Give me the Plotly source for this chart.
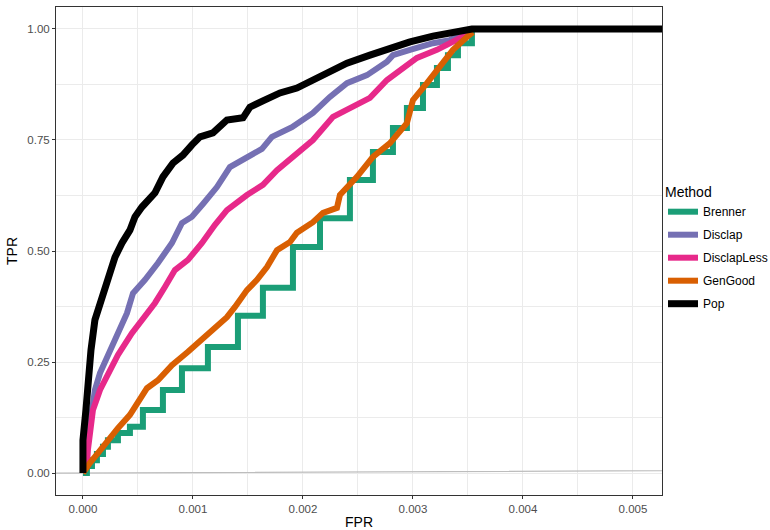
import plotly.graph_objects as go

# ---------------- data (FPR, TPR) ----------------
methods = ["Brenner", "Disclap", "DisclapLess", "GenGood", "Pop"]
colors = ["#1B9E77", "#7570B3", "#E7298A", "#D95F02", "#000000"]

brenner_fpr = [0, 0.036e-3, 0.082e-3, 0.127e-3, 0.182e-3, 0.227e-3, 0.318e-3, 0.427e-3,
               0.545e-3, 0.727e-3, 0.900e-3, 1.136e-3, 1.409e-3, 1.636e-3, 1.909e-3,
               2.155e-3, 2.427e-3, 2.636e-3, 2.818e-3, 2.945e-3, 3.091e-3, 3.218e-3,
               3.318e-3, 3.409e-3, 3.536e-3]
brenner_tpr = [0, 0.016, 0.029, 0.043, 0.059, 0.074, 0.090, 0.104, 0.142, 0.187, 0.236,
               0.284, 0.354, 0.417, 0.509, 0.574, 0.660, 0.723, 0.777, 0.822, 0.874,
               0.912, 0.941, 0.968, 0.993]

disclap_fpr = [0, 0.018e-3, 0.045e-3, 0.082e-3, 0.109e-3, 0.155e-3, 0.218e-3, 0.291e-3,
               0.336e-3, 0.400e-3, 0.455e-3, 0.564e-3, 0.682e-3, 0.809e-3, 0.900e-3,
               0.991e-3, 1.091e-3, 1.218e-3, 1.336e-3, 1.491e-3, 1.627e-3, 1.718e-3,
               1.900e-3, 2.091e-3, 2.245e-3, 2.400e-3, 2.582e-3, 2.764e-3, 2.818e-3,
               2.973e-3, 3.182e-3, 3.336e-3, 3.518e-3]
disclap_tpr = [0, 0.029, 0.074, 0.142, 0.187, 0.225, 0.261, 0.300, 0.329, 0.360, 0.405,
               0.435, 0.473, 0.518, 0.563, 0.577, 0.606, 0.644, 0.689, 0.712, 0.730,
               0.757, 0.779, 0.811, 0.847, 0.878, 0.896, 0.926, 0.941, 0.953, 0.968,
               0.975, 0.995]

discless_fpr = [0, 0.036e-3, 0.045e-3, 0.064e-3, 0.091e-3, 0.155e-3, 0.227e-3, 0.318e-3,
                0.445e-3, 0.536e-3, 0.655e-3, 0.745e-3, 0.836e-3, 0.955e-3, 1.082e-3,
                1.200e-3, 1.309e-3, 1.491e-3, 1.636e-3, 1.764e-3, 1.945e-3, 2.091e-3,
                2.273e-3, 2.455e-3, 2.609e-3, 2.764e-3, 2.882e-3, 3.036e-3, 3.218e-3,
                3.364e-3, 3.518e-3]
discless_tpr = [0, 0.018, 0.052, 0.090, 0.142, 0.187, 0.225, 0.266, 0.315, 0.345, 0.383,
                0.419, 0.457, 0.480, 0.518, 0.559, 0.592, 0.626, 0.649, 0.682, 0.721,
                0.750, 0.802, 0.824, 0.845, 0.885, 0.908, 0.935, 0.953, 0.971, 0.991]

gengood_fpr = [0, 0.018e-3, 0.064e-3, 0.136e-3, 0.227e-3, 0.318e-3, 0.427e-3, 0.518e-3,
               0.582e-3, 0.682e-3, 0.809e-3, 0.955e-3, 1.045e-3, 1.109e-3, 1.182e-3,
               1.309e-3, 1.382e-3, 1.491e-3, 1.582e-3, 1.673e-3, 1.764e-3, 1.882e-3,
               1.945e-3, 2.091e-3, 2.182e-3, 2.309e-3, 2.336e-3, 2.491e-3, 2.636e-3,
               2.791e-3, 2.945e-3, 3.000e-3, 3.127e-3, 3.245e-3, 3.364e-3, 3.491e-3,
               3.545e-3]
gengood_tpr = [0, 0.007, 0.023, 0.045, 0.074, 0.101, 0.131, 0.164, 0.191, 0.209, 0.243,
               0.273, 0.293, 0.311, 0.327, 0.351, 0.374, 0.412, 0.435, 0.464, 0.502,
               0.520, 0.541, 0.565, 0.586, 0.597, 0.626, 0.667, 0.712, 0.743, 0.788,
               0.840, 0.878, 0.914, 0.953, 0.982, 0.993]

pop_fpr = [0, 0, 0.027e-3, 0.045e-3, 0.073e-3, 0.109e-3, 0.155e-3, 0.218e-3, 0.291e-3,
           0.355e-3, 0.427e-3, 0.473e-3, 0.536e-3, 0.655e-3, 0.727e-3, 0.818e-3,
           0.909e-3, 0.991e-3, 1.064e-3, 1.182e-3, 1.309e-3, 1.455e-3, 1.518e-3,
           1.636e-3, 1.791e-3, 1.945e-3, 2.091e-3, 2.218e-3, 2.400e-3, 2.609e-3,
           2.818e-3, 2.973e-3, 3.182e-3, 3.364e-3, 3.536e-3, 6.0e-3]
pop_tpr = [0, 0.074, 0.142, 0.216, 0.277, 0.345, 0.383, 0.435, 0.486, 0.518, 0.547,
           0.577, 0.599, 0.631, 0.667, 0.698, 0.716, 0.739, 0.757, 0.766, 0.795, 0.800,
           0.824, 0.838, 0.856, 0.867, 0.885, 0.903, 0.923, 0.941, 0.959, 0.971, 0.984,
           0.993, 1.0, 1.0]

diag_x = [-1.0, 1.0]
diag_y = [-1.0, 1.0]

x_ticks = [0.000, 0.001, 0.002, 0.003, 0.004, 0.005]
x_tick_labels = ["0.000", "0.001", "0.002", "0.003", "0.004", "0.005"]
y_ticks = [0.00, 0.25, 0.50, 0.75, 1.00]
y_tick_labels = ["0.00", "0.25", "0.50", "0.75", "1.00"]

series = {
    "Brenner": (brenner_fpr, brenner_tpr),
    "Disclap": (disclap_fpr, disclap_tpr),
    "DisclapLess": (discless_fpr, discless_tpr),
    "GenGood": (gengood_fpr, gengood_tpr),
    "Pop": (pop_fpr, pop_tpr),
}

FONT = "Liberation Sans, Arial, Helvetica, sans-serif"

fig = go.Figure()
fig.add_trace(go.Scatter(x=diag_x, y=diag_y, mode="lines",
                         line=dict(color="#bdbdbd", width=1.2),
                         showlegend=False, hoverinfo="skip"))
for name, col in zip(methods, colors):
    fx, ty = series[name]
    fig.add_trace(go.Scatter(
        x=fx, y=ty, mode="lines", name=name, legendgroup=name,
        line=dict(color=col, width=6 if name != "Pop" else 7,
                  shape="hv" if name == "Brenner" else "linear"),
    ))

fig.update_layout(
    width=770, height=530,
    margin=dict(l=56, r=108, t=7, b=35, autoexpand=False),
    paper_bgcolor="white", plot_bgcolor="white",
    font=dict(family=FONT, color="#000000"),
    showlegend=True,
    legend=dict(
        title=dict(text="Method", font=dict(size=14, color="#000000")),
        font=dict(size=12, color="#000000"),
        x=(663 - 56) / 606, xanchor="left",
        y=(495 - 179) / 488, yanchor="top",
        traceorder="grouped", tracegroupgap=4,
        bgcolor="rgba(0,0,0,0)", borderwidth=0,
    ),
    xaxis=dict(
        range=[-0.000245, 0.005264], automargin=False,
        tickvals=x_ticks, ticktext=x_tick_labels,
        tickfont=dict(size=11.5, color="#4d4d4d"),
        ticks="outside", ticklen=3, tickwidth=1, tickcolor="#333333",
        showgrid=True, gridcolor="#ebebeb", gridwidth=1.1,
        minor=dict(showgrid=True, gridcolor="#ebebeb", gridwidth=0.55,
                   tickvals=[0.0005, 0.0015, 0.0025, 0.0035, 0.0045], ticks=""),
        showline=True, linecolor="#333333", linewidth=1, mirror=True,
        zeroline=False,
        title=dict(text="FPR", font=dict(size=14, color="#000000"), standoff=4),
    ),
    yaxis=dict(
        range=[-0.0495, 1.0495], automargin=False,
        tickvals=y_ticks, ticktext=y_tick_labels,
        tickfont=dict(size=11.5, color="#4d4d4d"),
        ticks="outside", ticklen=3, tickwidth=1, tickcolor="#333333",
        showgrid=True, gridcolor="#ebebeb", gridwidth=1.1,
        minor=dict(showgrid=True, gridcolor="#ebebeb", gridwidth=0.55,
                   tickvals=[0.125, 0.375, 0.625, 0.875], ticks=""),
        showline=True, linecolor="#333333", linewidth=1, mirror=True,
        zeroline=False,
        title=dict(text="TPR", font=dict(size=14, color="#000000"), standoff=6),
    ),
)

fig.write_html("out.html")
